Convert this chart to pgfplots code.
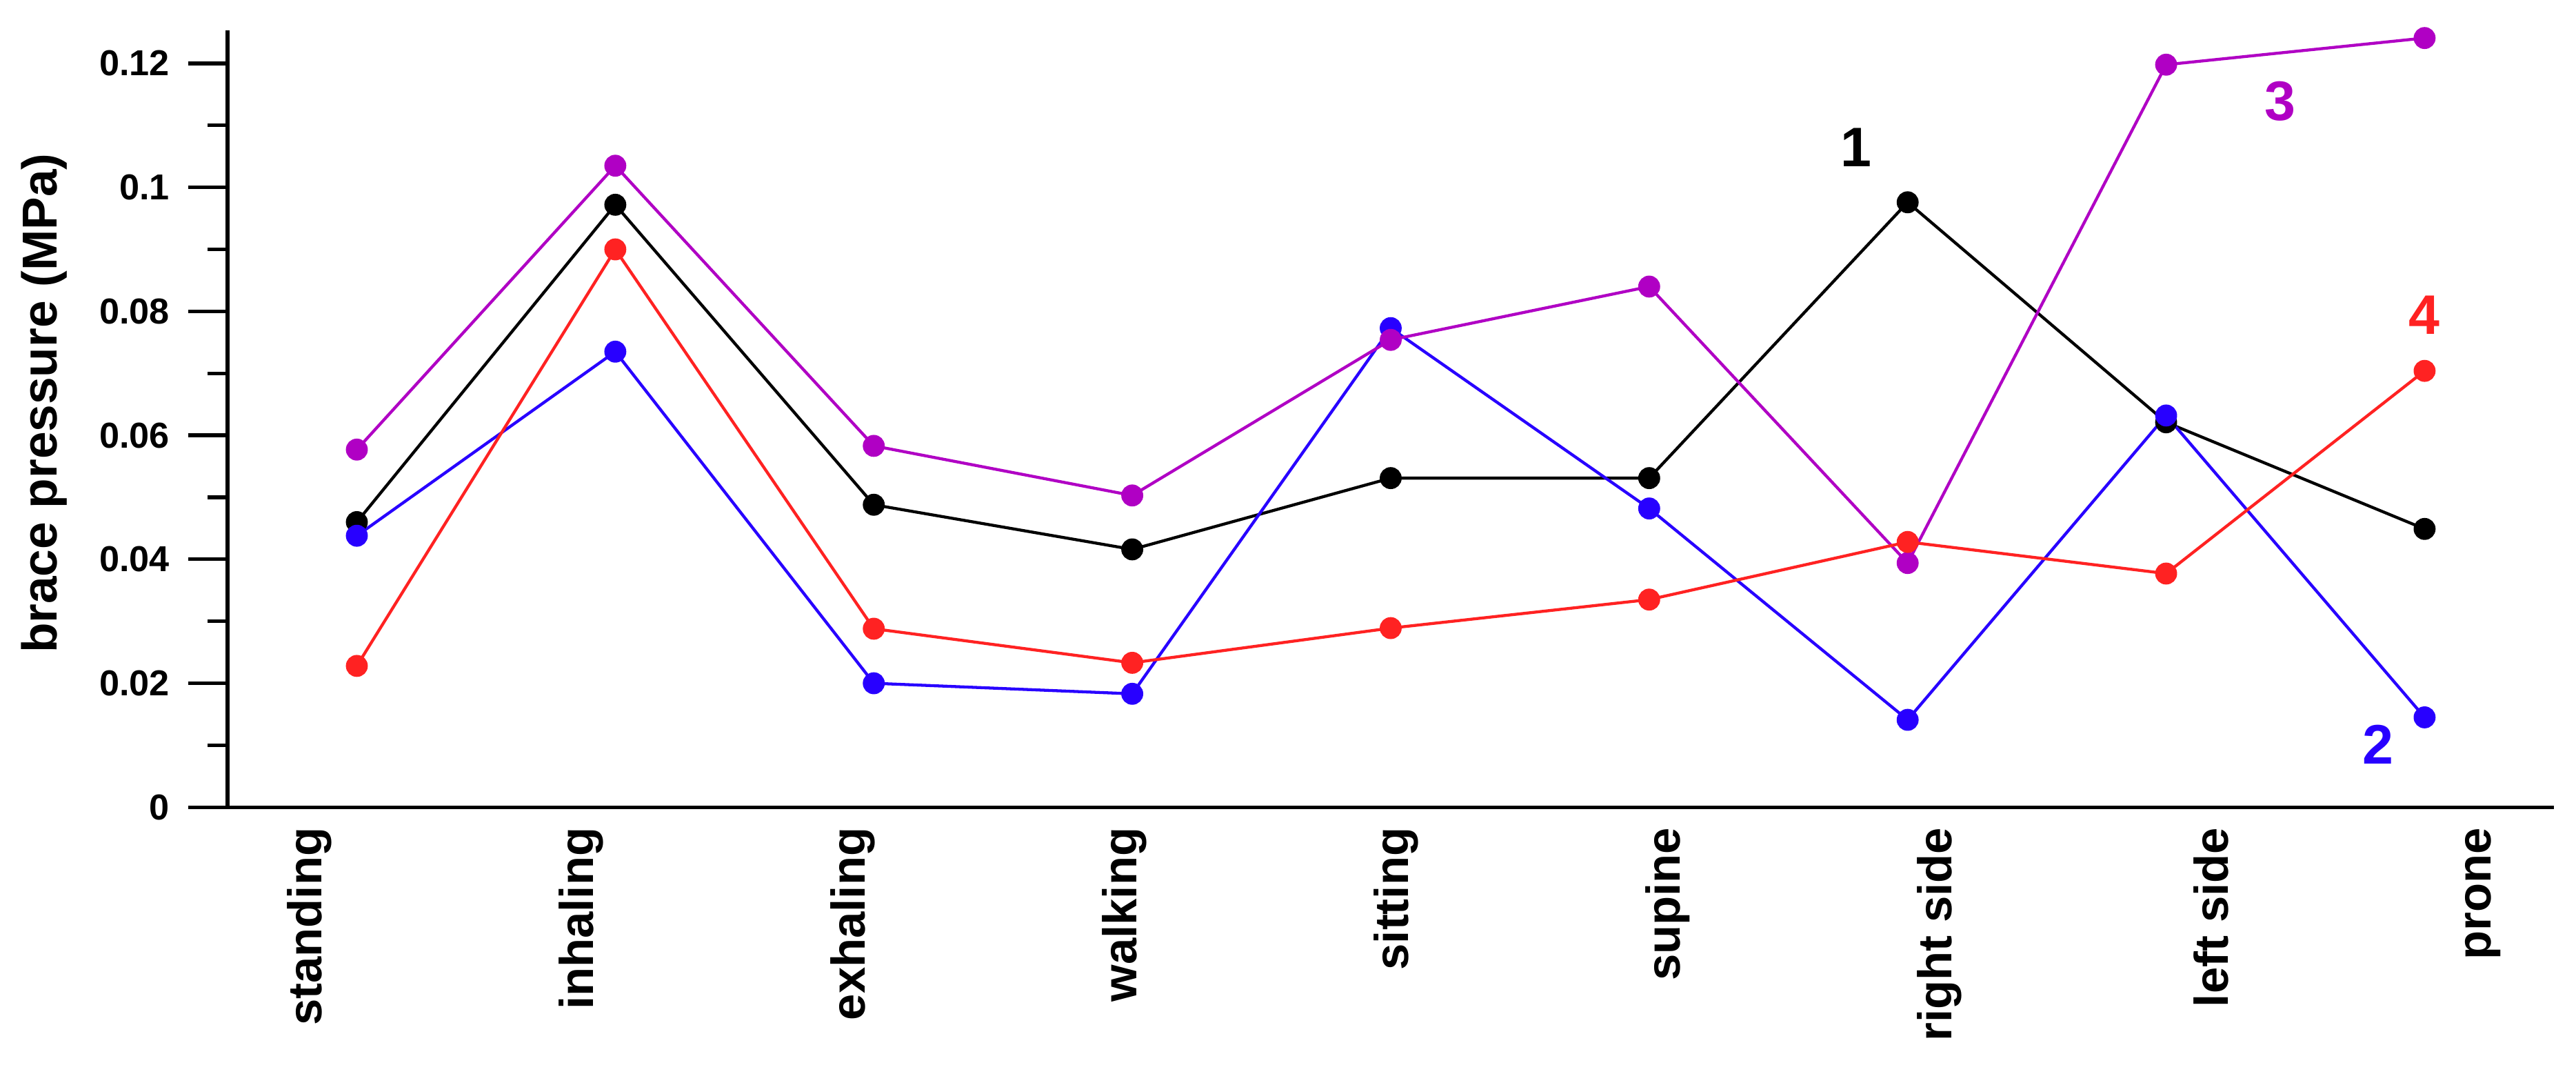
\documentclass[border=0pt]{standalone}
\usepackage{fontspec}
\setmainfont{Liberation Sans}
\usepackage{pgfplots}
\pgfplotsset{compat=1.18}
\definecolor{cA}{RGB}{0,0,0}
\definecolor{cB}{RGB}{40,0,255}
\definecolor{cC}{RGB}{176,0,196}
\definecolor{cD}{RGB}{255,34,34}
\begin{document}
\begin{tikzpicture}
\path[use as bounding box] (-69.25bp,-81bp) rectangle (714.5bp,245.5bp);
\begin{axis}[
 at={(0,0)}, anchor=south west,
 scale only axis, width=707.75bp, height=236.25bp,
 xmin=-0.5, xmax=8.5, ymin=0, ymax=0.12533,
 axis x line=bottom, axis y line=left,
 axis line style={-, line width=1.1bp},
 tick align=outside,
 major tick length=12bp, minor tick length=6bp,
 every tick/.style={black, line width=1.1bp},
 ytick={0,0.02,0.04,0.06,0.08,0.1,0.12},
 yticklabels={0,0.02,0.04,0.06,0.08,0.1,0.12},
 minor y tick num=1,
 xtick={-0.184,0.867,1.918,2.969,4.020,5.072,6.123,7.174,8.225},
 xticklabels={standing,inhaling,exhaling,walking,sitting,supine,right side,left side,prone},
 xtick style={draw=none},
 /pgf/number format/assume math mode=true,
 yticklabel style={font=\bfseries\fontsize{11}{13}\selectfont, inner sep=0pt, xshift=-5.5bp},
 xticklabel style={rotate=90, anchor=east, inner sep=0pt, font=\bfseries\fontsize{14.5}{17}\selectfont, xshift=6bp},
 ylabel={brace pressure (MPa)},
 ylabel style={at={(axis description cs:-0.0788,0.52)}, anchor=center, font=\bfseries\fontsize{15}{18}\selectfont},
 clip=false,
 every axis plot/.append style={line width=0.9bp, mark=*, mark size=2.9pt},
]
\addplot[cA, mark options={fill=cA}] coordinates {(0,0.0460) (1,0.0972) (2,0.0488) (3,0.0416) (4,0.0531) (5,0.0531) (6,0.0976) (7,0.0621) (8,0.0449)};
\addplot[cB, mark options={fill=cB}] coordinates {(0,0.0438) (1,0.0735) (2,0.0200) (3,0.0183) (4,0.0773) (5,0.0482) (6,0.0141) (7,0.0632) (8,0.0145)};
\addplot[cC, mark options={fill=cC}] coordinates {(0,0.0577) (1,0.1035) (2,0.0583) (3,0.0503) (4,0.0754) (5,0.0840) (6,0.0394) (7,0.1198) (8,0.1241)};
\addplot[cD, mark options={fill=cD}] coordinates {(0,0.0228) (1,0.0900) (2,0.0288) (3,0.0233) (4,0.0289) (5,0.0335) (6,0.0428) (7,0.0377) (8,0.0704)};
\node[cA, font=\bfseries\fontsize{17}{20}\selectfont] at (axis cs:5.8,0.1064) {1};
\node[cB, font=\bfseries\fontsize{17}{20}\selectfont] at (axis cs:7.82,0.0101) {2};
\node[cC, font=\bfseries\fontsize{17}{20}\selectfont] at (axis cs:7.44,0.1139) {3};
\node[cD, font=\bfseries\fontsize{17}{20}\selectfont] at (axis cs:8.0,0.0794) {4};
\end{axis}
\end{tikzpicture}
\end{document}
